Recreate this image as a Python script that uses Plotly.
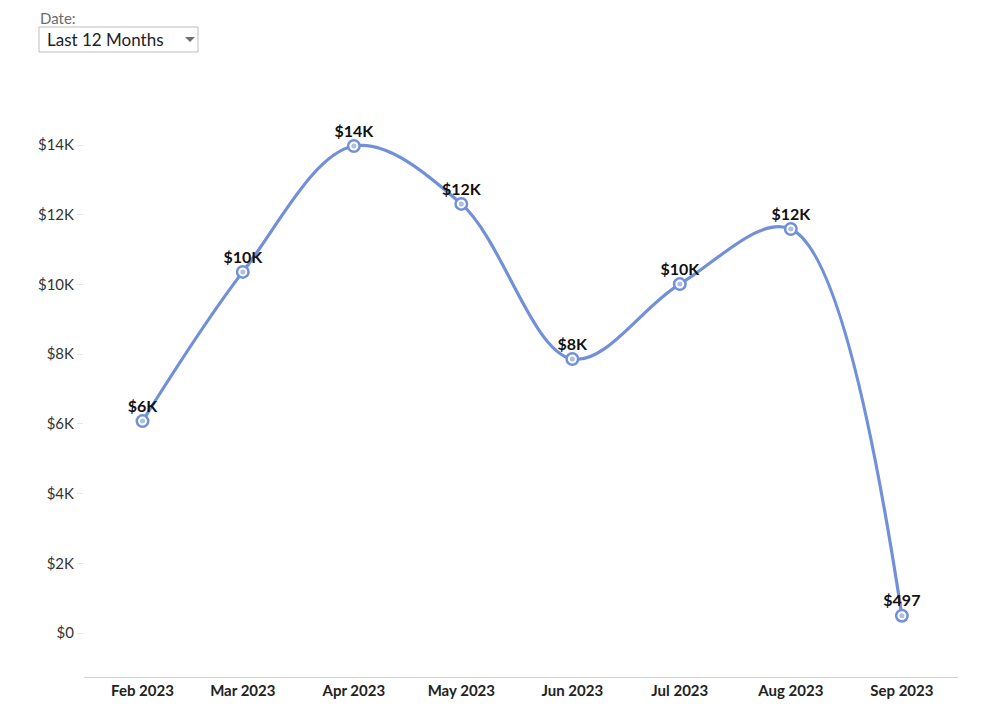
import plotly.graph_objects as go

months = ["2023-02-01", "2023-03-01", "2023-04-01", "2023-05-01",
          "2023-06-01", "2023-07-01", "2023-08-01", "2023-09-01"]
tick_labels = ["Feb 2023", "Mar 2023", "Apr 2023", "May 2023",
               "Jun 2023", "Jul 2023", "Aug 2023", "Sep 2023"]
sales = [6080, 10360, 13970, 12310, 7860, 10010, 11590, 497]
y_ticks = [0, 2000, 4000, 6000, 8000, 10000, 12000, 14000]
y_tick_labels = ["$0", "$2K", "$4K", "$6K", "$8K", "$10K", "$12K", "$14K"]
filter_label = "Date:"
filter_value = "Last 12 Months"


def fmt(v):
    return f"${round(v / 1000)}K" if v >= 1000 else f"${v}"


labels = [fmt(v) for v in sales]
color = "#7290da"
inner = "#aebeea"

# figure-pixel layout (page has an 8px body margin)
L, R, T, B = 76, 42, 82, 41
PW, PH = 992 - L - R, 710 - T - B


def px_x(p):
    return (p - L) / PW


def px_y(p):
    return 1 + (T - p) / PH


fig = go.Figure()
fig.add_trace(go.Scatter(
    x=months, y=sales,
    mode="lines+markers",
    line=dict(color=color, width=3.2, shape="spline", smoothing=1.0),
    marker=dict(size=14, color=color),
    hoverinfo="skip",
    cliponaxis=False,
))
fig.add_trace(go.Scatter(
    x=months, y=sales,
    mode="markers+text",
    marker=dict(size=7, color=inner, line=dict(color="white", width=2)),
    text=labels, textposition="top center",
    textfont=dict(family="Lato", size=16, color="#111"),
    texttemplate="<b>%{text}</b>",
    hoverinfo="skip",
    cliponaxis=False,
))

# dropdown-like filter box
bx0, bx1, by0, by1 = 31, 190, 19, 44
shapes = [
    dict(type="rect", xref="paper", yref="paper",
         x0=px_x(bx0), x1=px_x(bx1), y0=px_y(by1), y1=px_y(by0),
         line=dict(color="#bdbdbd", width=1), fillcolor="rgba(255,255,255,0)",
         layer="above"),
    dict(type="path", xref="paper", yref="paper",
         path=(f"M {px_x(177)},{px_y(29)} L {px_x(187)},{px_y(29)} "
               f"L {px_x(182)},{px_y(34)} Z"),
         line=dict(width=0), fillcolor="#6e6e6e", layer="above"),
]

annotations = [
    dict(text=filter_label, x=px_x(31), y=px_y(0), xref="paper", yref="paper",
         xanchor="left", yanchor="top", showarrow=False, borderpad=0,
         font=dict(family="Lato", size=15, color="#6b6b6b")),
    dict(text=filter_value, x=px_x(37), y=px_y(31), xref="paper", yref="paper",
         xanchor="left", yanchor="middle", showarrow=False,
         font=dict(family="Lato", size=17, color="#222")),
]

fig.update_layout(
    width=992, height=710,
    margin=dict(l=L, r=R, t=T, b=B),
    paper_bgcolor="white", plot_bgcolor="white",
    font=dict(family="Lato", color="#333"),
    showlegend=False,
    shapes=shapes,
    annotations=annotations,
    xaxis=dict(
        type="date",
        range=["2023-01-15 16:00", "2023-09-16 16:00"],
        tickvals=months, ticktext=[f"<b>{t}</b>" for t in tick_labels],
        tickfont=dict(family="Lato", size=15, color="#222"),
        showgrid=False, zeroline=False,
        showline=True, linecolor="#d0d0d0", linewidth=1,
        ticks="", fixedrange=True,
    ),
    yaxis=dict(
        range=[-1262, 15578],
        tickvals=y_ticks, ticktext=y_tick_labels,
        tickfont=dict(family="Lato", size=15, color="#333"),
        showgrid=False, zeroline=False, showline=False,
        ticks="outside", ticklen=6, tickcolor="#e6e6e6", tickwidth=1,
        fixedrange=True,
    ),
)

fig.write_html("out.html")
